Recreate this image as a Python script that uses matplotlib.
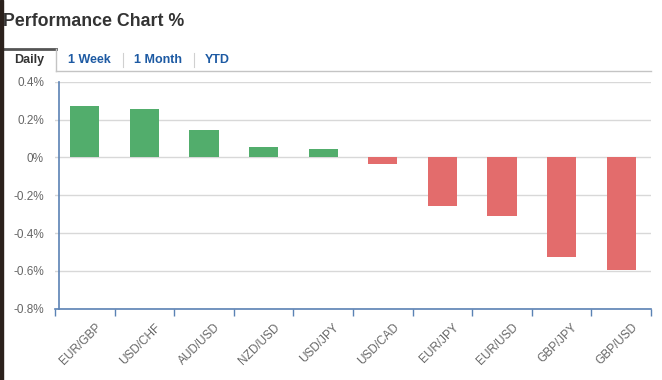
import matplotlib.pyplot as plt
from matplotlib.lines import Line2D
from matplotlib.patches import Rectangle
from matplotlib.ticker import FuncFormatter

# data
pairs = ["EUR/GBP", "USD/CHF", "AUD/USD", "NZD/USD", "USD/JPY",
         "USD/CAD", "EUR/JPY", "EUR/USD", "GBP/JPY", "GBP/USD"]
change_pct = [0.272, 0.256, 0.146, 0.056, 0.046,
              -0.033, -0.258, -0.31, -0.526, -0.595]
tabs = ["Daily", "1 Week", "1 Month", "YTD"]
y_ticks = [-0.8, -0.6, -0.4, -0.2, 0, 0.2, 0.4]

GREEN = "#52ad6c"
RED = "#e36c6c"
AXIS_BLUE = "#5b82b4"
GRID = "#d8d8d8"
TAB_BLUE = "#1d5aa3"

plt.rcParams["font.family"] = ["Liberation Sans", "DejaVu Sans"]

W, H = 662, 380
fig = plt.figure(figsize=(W / 100, H / 100), dpi=100)


def fx(px):
    return px / W


def fy(py):
    return 1 - py / H


# dark strip on the left edge
fig.patches.append(Rectangle((0, 0), fx(2.5), 1, transform=fig.transFigure,
                             color="#2b211c", zorder=5))

# title
fig.text(fx(3), fy(22), "Performance Chart %", fontsize=12.8, fontweight="bold",
         color="#333333", va="center", ha="left")

# tabs
fig.add_artist(Line2D([fx(3), fx(56)], [fy(48.5), fy(48.5)], color="#555555", lw=2))
fig.add_artist(Line2D([fx(56), fx(56)], [fy(48.5), fy(71)], color="#c4c4c4", lw=1))
fig.add_artist(Line2D([fx(56), fx(651)], [fy(71), fy(71)], color="#c4c4c4", lw=1))
tab_x = [29, 89, 158, 217]
for i, (t, x) in enumerate(zip(tabs, tab_x)):
    fig.text(fx(x), fy(60), t, fontsize=9, fontweight="bold",
             color="#333333" if i == 0 else TAB_BLUE, ha="center", va="center")
for x in [123, 193.5]:
    fig.add_artist(Line2D([fx(x), fx(x)], [fy(53), fy(67)], color="#d0d0d0", lw=0.8))

# plot area
left, right, top, bottom = 55, 651, 81.7, 308.7
ax = fig.add_axes([fx(left), fy(bottom), fx(right - left), (bottom - top) / H])

xs = list(range(len(pairs)))
colors = [GREEN if v >= 0 else RED for v in change_pct]
ax.bar(xs, change_pct, width=0.49, color=colors, zorder=3)

ax.set_xlim(-0.5, len(pairs) - 0.5)
ax.set_ylim(-0.8, 0.4)
ax.set_yticks(y_ticks)
ax.yaxis.set_major_formatter(FuncFormatter(lambda v, p: "0%" if abs(v) < 1e-9 else f"{v:.1f}%"))
ax.yaxis.grid(True, color=GRID, lw=1, zorder=0)
ax.tick_params(axis="y", length=0, pad=8, labelsize=8.5, labelcolor="#666666")

# labels sit a little right of the category centre, as in the original
ax.set_xticks([x + 0.17 for x in xs])
ax.set_xticklabels(pairs, rotation=45, ha="right", rotation_mode="anchor",
                   fontsize=8.5, color="#666666")
ax.set_xticks([x - 0.5 for x in range(len(pairs) + 1)], minor=True)
ax.tick_params(axis="x", which="major", length=0, pad=9)
ax.tick_params(axis="x", which="minor", length=5, color=AXIS_BLUE, width=1)

for s in ["top", "right", "left"]:
    ax.spines[s].set_visible(False)
ax.spines["bottom"].set_color(AXIS_BLUE)
ax.spines["bottom"].set_linewidth(1.2)
ax.spines["bottom"].set_zorder(4)

# y axis line slightly inside the left edge
y_line_x = -0.5 + 4.3 / ((right - left) / len(pairs))
ax.plot([y_line_x, y_line_x], [-0.8, 0.4], color=AXIS_BLUE, lw=1.2,
        clip_on=False, zorder=4)

fig.savefig("out.png", dpi=100)
